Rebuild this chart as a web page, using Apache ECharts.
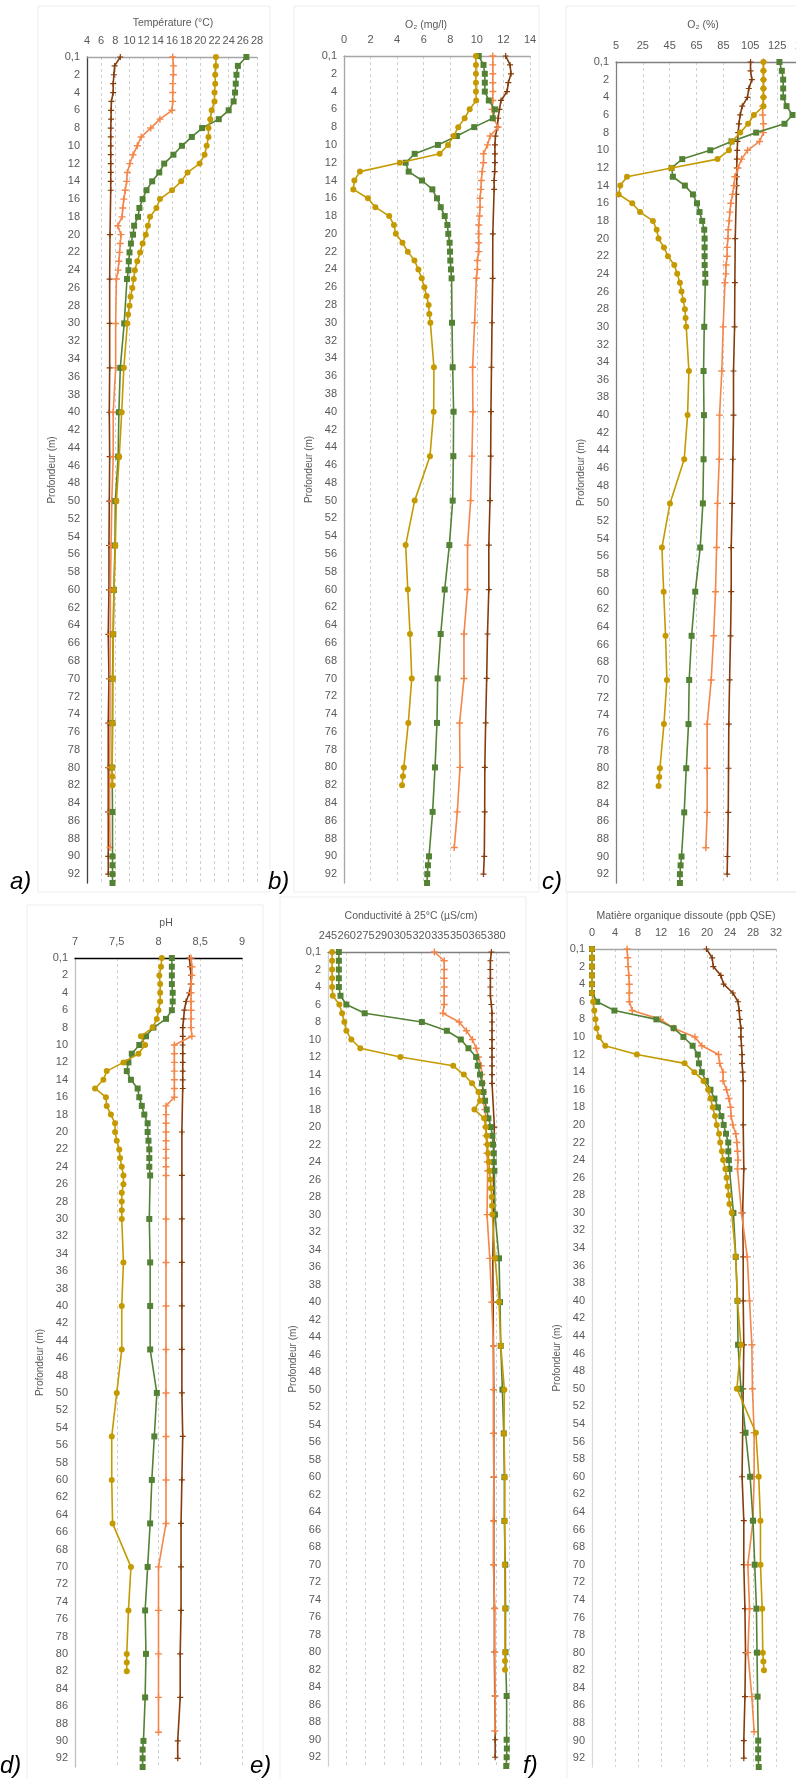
<!DOCTYPE html>
<html><head><meta charset="utf-8">
<script src="https://cdn.jsdelivr.net/npm/echarts@6.0.0/dist/echarts.min.js"></script>
<style>html,body{margin:0;padding:0;background:#fff}#c{width:796px;height:1778px}</style>
</head><body><div id="c"></div><script>
// ---------- categories (depth, m) ----------
const CATEGORIES = ['0,1','1','2','3','4','5','6','7','8','9','10','11','12','13','14','15','16','17','18','19','20','21','22','23','24','25','26','27','28','29','30','31','32','33','34','35','36','37','38','39','40','41','42','43','44','45','46','47','48','49','50','51','52','53','54','55','56','57','58','59','60','61','62','63','64','65','66','67','68','69','70','71','72','73','74','75','76','77','78','79','80','81','82','83','84','85','86','87','88','89','90','91','92','93'];
// category index of each sampled depth, per campaign
const IDX_BROWN  = [0,1,2,3,4,5,6,7,8,9,10,11,12,13,14,15,20,25,30,35,40,45,50,55,60,65,70,75,80,85,90,92];
const IDX_ORANGE = [0,1,2,3,4,5,6,7,8,9,10,11,12,13,14,15,16,17,18,19,20,21,22,23,24,25,30,35,40,45,50,55,60,65,70,75,80,85,89];
const IDX_GREEN  = [0,1,2,3,4,5,6,7,8,9,10,11,12,13,14,15,16,17,18,19,20,21,22,23,24,25,30,35,40,45,50,55,60,65,70,75,80,85,90,91,92,93];
const IDX_GOLD   = [0,1,2,3,4,5,6,7,8,9,10,11,12,13,14,15,16,17,18,19,20,21,22,23,24,25,26,27,28,29,30,35,40,45,50,55,60,65,70,75,80,81,82];

// ---------- a) Température (°C) ----------
const TEMP_BROWN  = [8.7,7.9,7.8,7.7,7.7,7.45,7.4,7.4,7.35,7.35,7.35,7.35,7.35,7.35,7.35,7.35,7.25,7.2,7.2,7.2,7.15,7.2,7.15,7.1,7.1,7.0,7.1,7.0,7.0,7.0,7.0,7.0];
const TEMP_ORANGE = [16.1,16.2,16.2,16.1,16.1,16.1,16.0,14.3,13.0,11.65,11.1,10.5,10.05,9.7,9.6,9.4,9.2,9.05,8.95,8.35,8.8,8.7,8.6,8.5,8.4,8.15,8.05,8.05,7.7,7.7,7.5,7.4,7.3,7.3,7.25,7.25,7.2,7.2,7.25];
const TEMP_GREEN  = [26.5,25.3,25.1,25.0,24.9,24.7,24.0,22.6,20.25,18.8,17.4,16.2,14.9,14.2,13.2,12.4,11.85,11.4,11.2,10.65,10.5,10.2,10.0,9.9,9.85,9.65,9.25,8.7,8.5,8.4,8.0,7.95,7.8,7.7,7.6,7.6,7.55,7.6,7.6,7.6,7.6,7.6];
const TEMP_GOLD   = [22.2,22.2,22.1,22.1,22.0,22.0,21.6,21.4,21.15,21.15,20.9,20.6,19.9,18.2,17.3,16.0,14.3,13.8,12.9,12.6,12.3,11.85,11.5,11.1,10.75,10.6,10.4,10.15,10.0,9.8,9.7,9.2,8.9,8.55,8.15,8.0,7.8,7.7,7.65,7.6,7.55,7.6,7.6];
// ---------- b) O2 (mg/l) ----------
const O2MG_BROWN  = [12.17,12.5,12.57,12.37,12.27,11.82,11.7,11.6,11.54,11.4,11.36,11.36,11.36,11.34,11.3,11.3,11.2,11.19,11.14,11.1,11.06,11.04,10.99,10.9,10.9,10.8,10.74,10.66,10.6,10.59,10.56,10.5];
const O2MG_ORANGE = [11.2,11.2,11.2,11.2,11.2,11.2,11.14,11.26,11.6,11.0,10.8,10.5,10.5,10.4,10.34,10.3,10.24,10.24,10.2,10.14,10.14,10.14,10.14,10.04,10.04,9.96,9.83,9.68,9.7,9.63,9.53,9.3,9.3,9.03,9.03,8.7,8.73,8.53,8.3];
const O2MG_GREEN  = [10.14,10.5,10.6,10.6,10.6,10.9,11.36,11.2,9.8,8.5,7.07,5.32,4.64,4.87,5.87,6.65,7.0,7.28,7.58,7.78,7.85,7.95,7.98,8.0,8.05,8.1,8.13,8.18,8.25,8.23,8.18,7.93,7.58,7.28,7.05,7.0,6.85,6.67,6.4,6.32,6.27,6.25];
const O2MG_GOLD   = [9.93,9.93,9.93,9.93,9.93,9.95,9.46,9.08,8.6,8.25,7.83,7.2,4.2,1.2,0.78,0.7,1.8,2.36,3.4,3.76,3.9,4.4,4.8,5.3,5.6,5.85,6.05,6.22,6.37,6.42,6.5,6.77,6.75,6.47,5.32,4.64,4.8,4.97,5.1,4.84,4.5,4.44,4.37];
// ---------- c) O2 (%) ----------
const O2PC_BROWN  = [105.2,105.2,106.2,103.9,102.9,99,97.5,96.5,96,95.5,95.3,95,95,95,94.8,94.6,93.8,93.5,93.3,92.5,92.5,92,91.5,90.8,90.8,90.3,89.6,89,88.8,88.6,88,87.8];
const O2PC_ORANGE = [114.8,114.8,114.8,114.8,114.8,114.2,114.2,114.8,114.8,111.9,103,98.5,95.8,93.5,92.8,91.8,90.5,89.8,89.3,88.6,88.3,87.8,87.8,87,86.8,86.1,84.8,83.8,82.1,81.9,80.6,79.9,79.1,77.7,75.9,72.9,72.9,72.9,71.9];
const O2PC_GREEN  = [126.7,128.5,129.5,129.5,129.5,132,136.4,130.5,109.4,91,75.2,54.3,46.4,47.4,56.3,62.3,65.3,67.2,69.2,70.7,71,71,71,71,71.5,71.5,70.7,70.2,70.5,70.2,69.7,67.7,64,61.3,59.5,59,57.3,55.8,53.8,53.1,52.6,52.6];
const O2PC_GOLD   = [114.8,114.8,114.8,114.8,114.8,114.8,107.7,103.4,97.5,91.3,89.1,80.6,46.4,13.2,8.2,7,17.1,22.9,32.5,35.3,36.7,40.7,43.7,48.4,50.6,52.6,53.8,55.1,56.3,56.8,57.3,59.3,58.3,55.8,45.2,39.2,40.5,41.9,42.9,40.7,37.7,37.2,36.7];
// ---------- d) pH ----------
const PH_BROWN  = [8.37,8.38,8.39,8.39,8.37,8.33,8.31,8.3,8.29,8.29,8.29,8.29,8.29,8.29,8.29,8.29,8.28,8.28,8.28,8.28,8.28,8.28,8.28,8.29,8.28,8.27,8.27,8.27,8.26,8.26,8.23,8.23];
const PH_ORANGE = [8.39,8.4,8.4,8.39,8.39,8.39,8.39,8.39,8.39,8.4,8.19,8.19,8.19,8.19,8.19,8.19,8.19,8.09,8.09,8.09,8.09,8.09,8.09,8.09,8.09,8.09,8.09,8.09,8.09,8.09,8.09,8.09,8.09,8.09,8.0,8.0,8.0,8.0,8.0];
const PH_GREEN  = [8.16,8.16,8.16,8.16,8.17,8.17,8.16,8.09,7.94,7.85,7.77,7.68,7.64,7.62,7.67,7.75,7.77,7.8,7.83,7.87,7.87,7.88,7.89,7.89,7.89,7.9,7.89,7.9,7.9,7.9,7.98,7.95,7.92,7.9,7.87,7.84,7.85,7.84,7.82,7.81,7.81,7.81];
const PH_GOLD   = [8.04,8.03,8.01,8.02,8.02,8.02,8.0,7.98,7.93,7.79,7.84,7.76,7.58,7.38,7.34,7.24,7.37,7.38,7.43,7.48,7.48,7.5,7.53,7.54,7.56,7.58,7.58,7.56,7.56,7.56,7.56,7.58,7.56,7.56,7.5,7.44,7.44,7.45,7.67,7.64,7.62,7.62,7.62];
// ---------- e) Conductivité à 25°C (µS/cm) ----------
const COND_BROWN  = [375.9,375.1,375.1,375.1,375.1,375.1,375.9,376.4,376.4,376.4,376.4,376.4,376.4,376.4,376.4,376.4,378.3,377.5,377.8,377,377.3,377.5,377.8,377.8,377.8,377.8,377.8,378.3,378.3,378.6,378.9,378.9];
const COND_ORANGE = [330.2,338.1,338.1,338.1,338.1,338.1,338.1,337.1,350.1,355.9,360.7,363.7,365.5,367.7,368.2,368.7,369.5,369.2,370.8,371.4,371.4,371.6,372.2,372.4,372.7,372.9,372.4,374.6,376.2,377.5,377.5,377.5,377.8,377.5,377.5,378.6,378.6,378.9,378.6];
const COND_GREEN  = [253.7,253.7,253.7,253.7,253.7,255,259.7,274.4,320.2,340.2,351.4,357.5,363.7,365,366.8,368.4,369.5,370.8,372.2,373.5,375.6,376.7,377.2,377.8,377.8,378.3,378.8,382,382.8,383.4,384.7,385.8,386.3,386.3,387,387.2,387.2,388.1,388.1,388.3,388.1,387.8];
const COND_GOLD   = [248.3,248.3,248.3,248.3,248.3,248.8,254.1,256.3,258.1,259.7,263.7,270.9,302.9,345.3,353.8,360.4,365.5,366.8,362.3,370.1,371.4,372.2,372.8,373.3,374,374.3,375.1,375.6,376.2,376.4,376.7,378.8,382,383.4,386.3,386,386.6,386.6,386.6,386.8,386.8,386.8,386.8];
// ---------- f) Matière organique dissoute (ppb QSE) ----------
const MOD_BROWN  = [19.9,20.9,21.1,22.4,22.9,24.5,25.4,25.6,25.7,25.9,25.9,26.0,26.1,26.1,26.2,26.3,26.3,26.4,26.2,26.3,26.3,26.4,26.3,26.2,26.1,26.4,26.4,26.6,26.7,26.6,26.4,26.4];
const MOD_ORANGE = [6.1,6.2,6.3,6.4,6.5,6.5,6.5,7.0,11.9,14.2,17.9,19.1,22.0,22.2,22.8,22.8,23.4,23.8,24.1,24.2,24.5,25.0,25.2,25.3,25.4,25.3,26.0,27.0,27.4,27.8,27.9,28.2,28.2,28.0,27.1,27.4,27.1,27.8,28.2];
const MOD_GREEN  = [0,0,0,0,0,0,0.9,3.9,11.2,14.2,15.9,17.5,18.4,18.6,19.1,19.8,20.6,21.3,21.9,22.5,22.9,23.3,23.7,23.7,23.8,23.9,24.6,25.0,25.3,25.4,25.9,26.7,27.5,28.0,28.3,28.6,28.7,28.8,28.9,28.9,28.9,29.0];
const MOD_GOLD   = [0,0,0,0,0,0,0.2,0.4,0.6,0.8,1.2,2.3,7.8,16.1,17.8,19.4,20.2,20.6,21.0,21.4,21.7,22.1,22.3,22.6,22.8,23.2,23.4,23.6,23.8,23.9,24.3,25.0,25.3,25.9,25.2,28.5,29.0,29.3,29.3,29.6,29.7,29.8,29.9];

const TITLES  = ['Température (°C)','O\u2082 (mg/l)','O\u2082 (%)','pH','Conductivité à 25°C (µS/cm)','Matière organique dissoute (ppb QSE)'];
const LETTERS = ['a)','b)','c)','d)','e)','f)'];
const Y_NAME  = 'Profondeur (m)';

// ---------- layout / style ----------
const C_BROWN='#843c0c', C_ORANGE='#f4864a', C_GREEN='#548235', C_GOLD='#c49a00';
const PLUS='path://M4,0H6V4H10V6H6V10H4V6H0V4H4Z';
const SERIES_STYLE=[
  {idx:IDX_BROWN, color:C_BROWN, symbol:PLUS, size:6},
  {idx:IDX_ORANGE,color:C_ORANGE,symbol:PLUS, size:7},
  {idx:IDX_GREEN, color:C_GREEN, symbol:'rect',size:6},
  {idx:IDX_GOLD,  color:C_GOLD,  symbol:'circle',size:6}
];
const PANELS=[
  {vals:[TEMP_BROWN,TEMP_ORANGE,TEMP_GREEN,TEMP_GOLD], min:4,max:28,interval:2, grid:{left:87,top:57,width:170,height:826}, tx:173,ty:23, lx:10,ly:882, top:'#a6a6a6', leftC:'#404040'},
  {vals:[O2MG_BROWN,O2MG_ORANGE,O2MG_GREEN,O2MG_GOLD], min:0,max:14,interval:2, grid:{left:344,top:56,width:186,height:827}, tx:426,ty:25, lx:268,ly:882, top:'#a6a6a6', leftC:'#a6a6a6'},
  {vals:[O2PC_BROWN,O2PC_ORANGE,O2PC_GREEN,O2PC_GOLD], min:5,max:145,interval:20, grid:{left:616,top:62,width:188,height:821}, tx:703,ty:25, lx:542,ly:882, top:'#808080', leftC:'#808080'},
  {vals:[PH_BROWN,PH_ORANGE,PH_GREEN,PH_GOLD], min:7,max:9,interval:0.5, grid:{left:75,top:958,width:167,height:809}, tx:166,ty:923, lx:0,ly:1766, top:'#000000', leftC:'#bfbfbf'},
  {vals:[COND_BROWN,COND_ORANGE,COND_GREEN,COND_GOLD], min:245,max:390,interval:15, grid:{left:328,top:952,width:181,height:814}, tx:411,ty:916, lx:250,ly:1766, top:'#808080', leftC:'#d0d0d0'},
  {vals:[MOD_BROWN,MOD_ORANGE,MOD_GREEN,MOD_GOLD], min:0,max:32,interval:4, grid:{left:592,top:949,width:184,height:818}, tx:686,ty:916, lx:523,ly:1766, top:'#a6a6a6', leftC:'#d9d9d9'}
];
const CARDS=[[38,6,232,886],[294,6,245,886],[566,6,240,886],[27,905,236,880],[280,897,246,890],[567,892,240,890]];

const FONT='"Liberation Sans", Arial, sans-serif';
const grids=[],xAxes=[],yAxes=[],series=[],graphics=[];
CARDS.forEach(r=>graphics.push({type:'rect',shape:{x:r[0],y:r[1],width:r[2],height:r[3]},style:{fill:'none',stroke:'#ededed',lineWidth:1},z:-10}));
PANELS.forEach((p,i)=>{
  grids.push(Object.assign({containLabel:false,outerBoundsMode:'none'},p.grid));
  xAxes.push({type:'value',gridIndex:i,position:'top',min:p.min,max:p.max,interval:p.interval,
    axisLine:{show:true,onZero:false,lineStyle:{color:p.top,width:1.3}},axisTick:{show:false},
    axisLabel:{show:true,margin:11,color:'#595959',fontFamily:FONT,fontSize:11,showMaxLabel:i!==4,
      formatter:v=>String(v).replace('.',',')},
    splitLine:{show:true,lineStyle:{color:'#d0d0d0',type:[3,3],width:1}}});
  yAxes.push({type:'category',gridIndex:i,data:CATEGORIES,inverse:true,boundaryGap:false,
    axisLine:{show:true,onZero:false,lineStyle:{color:p.leftC,width:1.3}},axisTick:{show:false},
    axisLabel:{interval:1,margin:7,color:'#595959',fontFamily:FONT,fontSize:11},
    splitLine:{show:false},
    name:Y_NAME,nameLocation:'middle',nameRotate:90,nameGap:30,
    nameTextStyle:{color:'#595959',fontFamily:FONT,fontSize:10}});
  SERIES_STYLE.forEach((s,k)=>{
    const vals=p.vals[k];
    series.push({type:'line',xAxisIndex:i,yAxisIndex:i,animation:false,
      data:s.idx.map((c,j)=>[vals[j],c]),
      symbol:s.symbol,symbolSize:s.size,showSymbol:true,showAllSymbol:true,
      lineStyle:{color:s.color,width:1.6},itemStyle:{color:s.color},z:2+k});
  });
  graphics.push({type:'text',x:p.tx,y:p.ty,style:{text:TITLES[i],fill:'#595959',font:'10.5px '+FONT,align:'center',verticalAlign:'middle',textAlign:'center',textVerticalAlign:'middle'}});
  graphics.push({type:'text',x:p.lx,y:p.ly,style:{text:LETTERS[i],fill:'#000',font:'italic 24px '+FONT,align:'left',verticalAlign:'middle',textAlign:'left',textVerticalAlign:'middle'},z:100});
});
const chart=echarts.init(document.getElementById('c'),null,{renderer:'canvas'});
chart.setOption({backgroundColor:'#ffffff',animation:false,grid:grids,xAxis:xAxes,yAxis:yAxes,series:series,graphic:graphics});
</script></body></html>
